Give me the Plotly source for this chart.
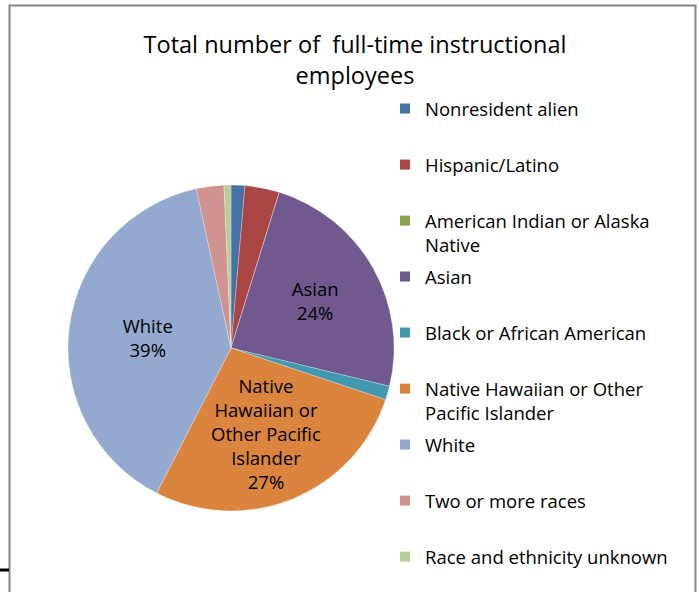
import plotly.graph_objects as go

# slice data
categories = [
    "Nonresident alien",
    "Hispanic/Latino",
    "American Indian or Alaska Native",
    "Asian",
    "Black or African American",
    "Native Hawaiian or Other Pacific Islander",
    "White",
    "Two or more races",
    "Race and ethnicity unknown",
]
counts = [2, 5, 0, 35, 2, 40, 57, 4, 1]

# legend texts (Excel wraps the long ones)
legend_labels = [
    "Nonresident alien",
    "Hispanic/Latino",
    "American Indian or Alaska<br>Native",
    "Asian",
    "Black or African American",
    "Native Hawaiian or Other<br>Pacific Islander",
    "White",
    "Two or more races",
    "Race and ethnicity unknown",
]

# in-slice labels, only the big slices carry one
slice_names = ["", "", "", "Asian", "",
               "Native<br>Hawaiian or<br>Other Pacific<br>Islander", "White", "", ""]

colors = ["#4572A7", "#AA4643", "#89A54E", "#71588F", "#4198AF",
          "#DB843D", "#93A9CF", "#D19392", "#B9CD96"]

FONT = "Open Sans"
W, H = 699, 592

text_tpl = [f"{n}<br>%{{percent:.0%}}" if n else "" for n in slice_names]

fig = go.Figure()

fig.add_trace(go.Pie(
    labels=categories,
    values=counts,
    sort=False,
    direction="clockwise",
    rotation=0,
    marker=dict(colors=colors, line=dict(color="rgba(255,255,255,0.5)", width=0.5)),
    texttemplate=text_tpl,
    textposition="inside",
    insidetextorientation="horizontal",
    textfont=dict(family=FONT, size=18.5, color="black"),
    hoverinfo="label+value+percent",
    showlegend=False,
    domain=dict(x=[68 / W, 394 / W], y=[81 / H, 407 / H]),
))

# legend entries as dummy traces; split over three legends so the
# two-line entries don't push the rest down (Excel spaces them evenly)
legend_ids = ["legend", "legend", "legend",
              "legend2", "legend2", "legend2",
              "legend3", "legend3", "legend3"]
for lab, col, lid in zip(legend_labels, colors, legend_ids):
    fig.add_trace(go.Scatter(
        x=[None], y=[None],
        mode="markers",
        marker=dict(symbol="square", size=10, color=col),
        name=lab,
        legendgroup=lab,
        legend=lid,
        showlegend=True,
    ))

legend_style = dict(
    x=385 / W, xanchor="left", yanchor="top",
    font=dict(family=FONT, size=18.5, color="black"),
    tracegroupgap=29,
    valign="top",
    bgcolor="rgba(0,0,0,0)",
    maxheight=400,
)

fig.update_layout(
    width=W,
    height=H,
    paper_bgcolor="white",
    plot_bgcolor="white",
    margin=dict(l=0, r=0, t=0, b=0),
    title=dict(
        text="Total number of  full-time instructional<br>employees",
        x=355 / W, xanchor="center",
        y=1 - 53 / H, yanchor="top",
        font=dict(family=FONT, size=23.5, color="black"),
    ),
    uniformtext=dict(minsize=18.5, mode="show"),
    xaxis=dict(visible=False),
    yaxis=dict(visible=False),
    legend=dict(y=1 - 90 / H, **legend_style),
    legend2=dict(y=1 - 258 / H, **legend_style),
    legend3=dict(y=1 - 426 / H, **legend_style),
    shapes=[
        # chart area frame
        dict(type="rect", xref="paper", yref="paper",
             x0=9.5 / W, x1=695.5 / W, y0=-0.05, y1=1 - 5.5 / H,
             line=dict(color="#868686", width=2)),
        # stray cell border on the left edge
        dict(type="line", xref="paper", yref="paper",
             x0=0, x1=9 / W, y0=1 - 570 / H, y1=1 - 570 / H,
             line=dict(color="black", width=3)),
    ],
)

# drop the browser's default body margin so the figure sits at (0, 0)
fig.write_html("out.html", config={"displayModeBar": False},
               post_script="document.body.style.margin='0';")
